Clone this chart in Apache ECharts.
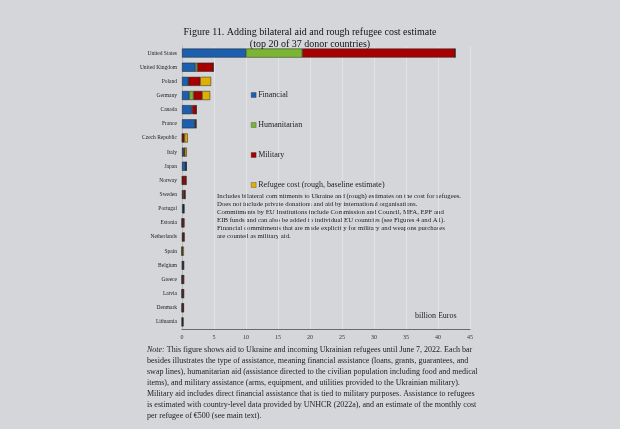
<!DOCTYPE html>
<html>
<head>
<meta charset="utf-8">
<script src="https://cdn.jsdelivr.net/npm/echarts@6/dist/echarts.min.js"></script>
<style>
  html, body { margin: 0; padding: 0; background: #d5d6da; }
  #chart { width: 620px; height: 429px; }
</style>
</head>
<body>
<div id="chart"></div>
<script>
// countries, top to bottom
var countries = ['United States', 'United Kingdom', 'Poland', 'Germany', 'Canada', 'France',
  'Czech Republic', 'Italy', 'Japan', 'Norway', 'Sweden', 'Portugal', 'Estonia', 'Netherlands',
  'Spain', 'Belgium', 'Greece', 'Latvia', 'Denmark', 'Lithuania'];
// billion Euros
var financial    = [10.0, 2.1, 1.0, 1.15, 1.5, 2.0, 0.05, 0.2, 0.55, 0.05, 0.1, 0.25, 0.0, 0.1, 0.0, 0.05, 0.0, 0.0, 0.0, 0.02];
var humanitarian = [8.8, 0.3, 0.05, 0.65, 0.1, 0.1, 0.05, 0.1, 0.1, 0.05, 0.1, 0.0, 0.02, 0.05, 0.02, 0.1, 0.02, 0.02, 0.03, 0.02];
var military     = [23.9, 2.5, 1.8, 1.35, 0.65, 0.1, 0.3, 0.15, 0.0, 0.55, 0.3, 0.05, 0.3, 0.2, 0.05, 0.1, 0.25, 0.25, 0.22, 0.1];
var refugee      = [0, 0, 1.7, 1.25, 0, 0, 0.5, 0.3, 0, 0, 0, 0, 0, 0, 0.22, 0.05, 0.02, 0, 0, 0.1];
var xTicks = [0, 5, 10, 15, 20, 25, 30, 35, 40, 45];

var seriesNames = ['Financial', 'Humanitarian', 'Military', 'Refugee cost (rough, baseline estimate)'];
var seriesColors = ['#1b5fae', '#7bb632', '#a80000', '#e0b000'];

var infoLines = [
  'Includes bilateral commitments to Ukraine and (rough) estimates on the cost for refugees.',
  'Does not include private donations and aid by international organisations.',
  'Commitments by EU Institutions include Commission and Council, MFA, EPF and',
  'EIB funds and can also be added to individual EU countries (see Figures 4 and A1).',
  'Financial commitments that are made explicitly for military and weapons purchases',
  'are counted as military aid.'
];
var noteLines = [
  '{i|Note:} This figure shows aid to Ukraine and incoming Ukrainian refugees until June 7, 2022. Each bar',
  'besides illustrates the type of assistance, meaning financial assistance (loans, grants, guarantees, and',
  'swap lines), humanitarian aid (assistance directed to the civilian population including food and medical',
  'items), and military assistance (arms, equipment, and utilities provided to the Ukrainian military).',
  'Military aid includes direct financial assistance that is tied to military purposes. Assistance to refugees',
  'is estimated with country-level data provided by UNHCR (2022a), and an estimate of the monthly cost',
  'per refugee of €500 (see main text).'
];

var font = 'Liberation Serif';
var chart = echarts.init(document.getElementById('chart'));

var allData = [financial, humanitarian, military, refugee];
var series = [];
for (var i = 0; i < seriesNames.length; i++) {
  series.push({
    name: seriesNames[i],
    type: 'bar',
    stack: 'total',
    barWidth: '64%',
    itemStyle: { color: seriesColors[i], borderColor: '#222', borderWidth: 0.5 },
    emphasis: { disabled: true },
    data: allData[i]
  });
}

var graphics = [];
// info box
for (var k = 0; k < infoLines.length; k++) {
  graphics.push({
    type: 'text', left: 217, top: 193 + k * 8,
    style: { text: infoLines[k], font: '6.8px "' + font + '"', fill: '#222' }
  });
}
graphics.push({
  type: 'text', left: 415, top: 312,
  style: { text: 'billion Euros', font: '8px "' + font + '"', fill: '#222' }
});
// note below chart
for (var n = 0; n < noteLines.length; n++) {
  graphics.push({
    type: 'text', left: 147, top: 346 + n * 11,
    style: {
      text: noteLines[n],
      font: '8px "' + font + '"',
      fill: '#222',
      rich: { i: { fontStyle: 'italic', fontFamily: font, fontSize: 8, fill: '#222' } }
    }
  });
}

var option = {
  backgroundColor: '#d5d6da',
  animation: false,
  title: {
    text: 'Figure 11. Adding bilateral aid and rough refugee cost estimate\n(top 20 of 37 donor countries)',
    left: 'center',
    top: 21,
    textStyle: { fontFamily: font, fontSize: 10, fontWeight: 'normal', color: '#111', lineHeight: 12 }
  },
  legend: {
    orient: 'vertical',
    left: 246,
    top: 85,
    itemWidth: 5,
    itemHeight: 5,
    itemGap: 20,
    icon: 'rect',
    data: seriesNames,
    selectedMode: false,
    itemStyle: { borderWidth: 0.3 },
    textStyle: { fontFamily: font, fontSize: 8, color: '#222', lineHeight: 10, padding: [0, 0, 0, -3] }
  },
  grid: { left: 182, top: 46, width: 288, height: 283 },
  xAxis: {
    type: 'value',
    min: xTicks[0],
    max: xTicks[xTicks.length - 1],
    interval: 5,
    axisLine: { show: true, lineStyle: { color: '#6a6a6a', width: 1 } },
    axisTick: { show: false },
    splitLine: { show: true, lineStyle: { color: '#e2e3e6', width: 1 } },
    axisLabel: { fontFamily: font, fontSize: 6, color: '#333', margin: 5 }
  },
  yAxis: {
    type: 'category',
    inverse: true,
    data: countries,
    axisLine: { show: true, lineStyle: { color: '#b8b9bd' } },
    axisTick: { show: false },
    axisLabel: { fontFamily: font, fontSize: 5.5, color: '#222', margin: 5 }
  },
  series: series,
  graphic: graphics
};
chart.setOption(option);
</script>
</body>
</html>
